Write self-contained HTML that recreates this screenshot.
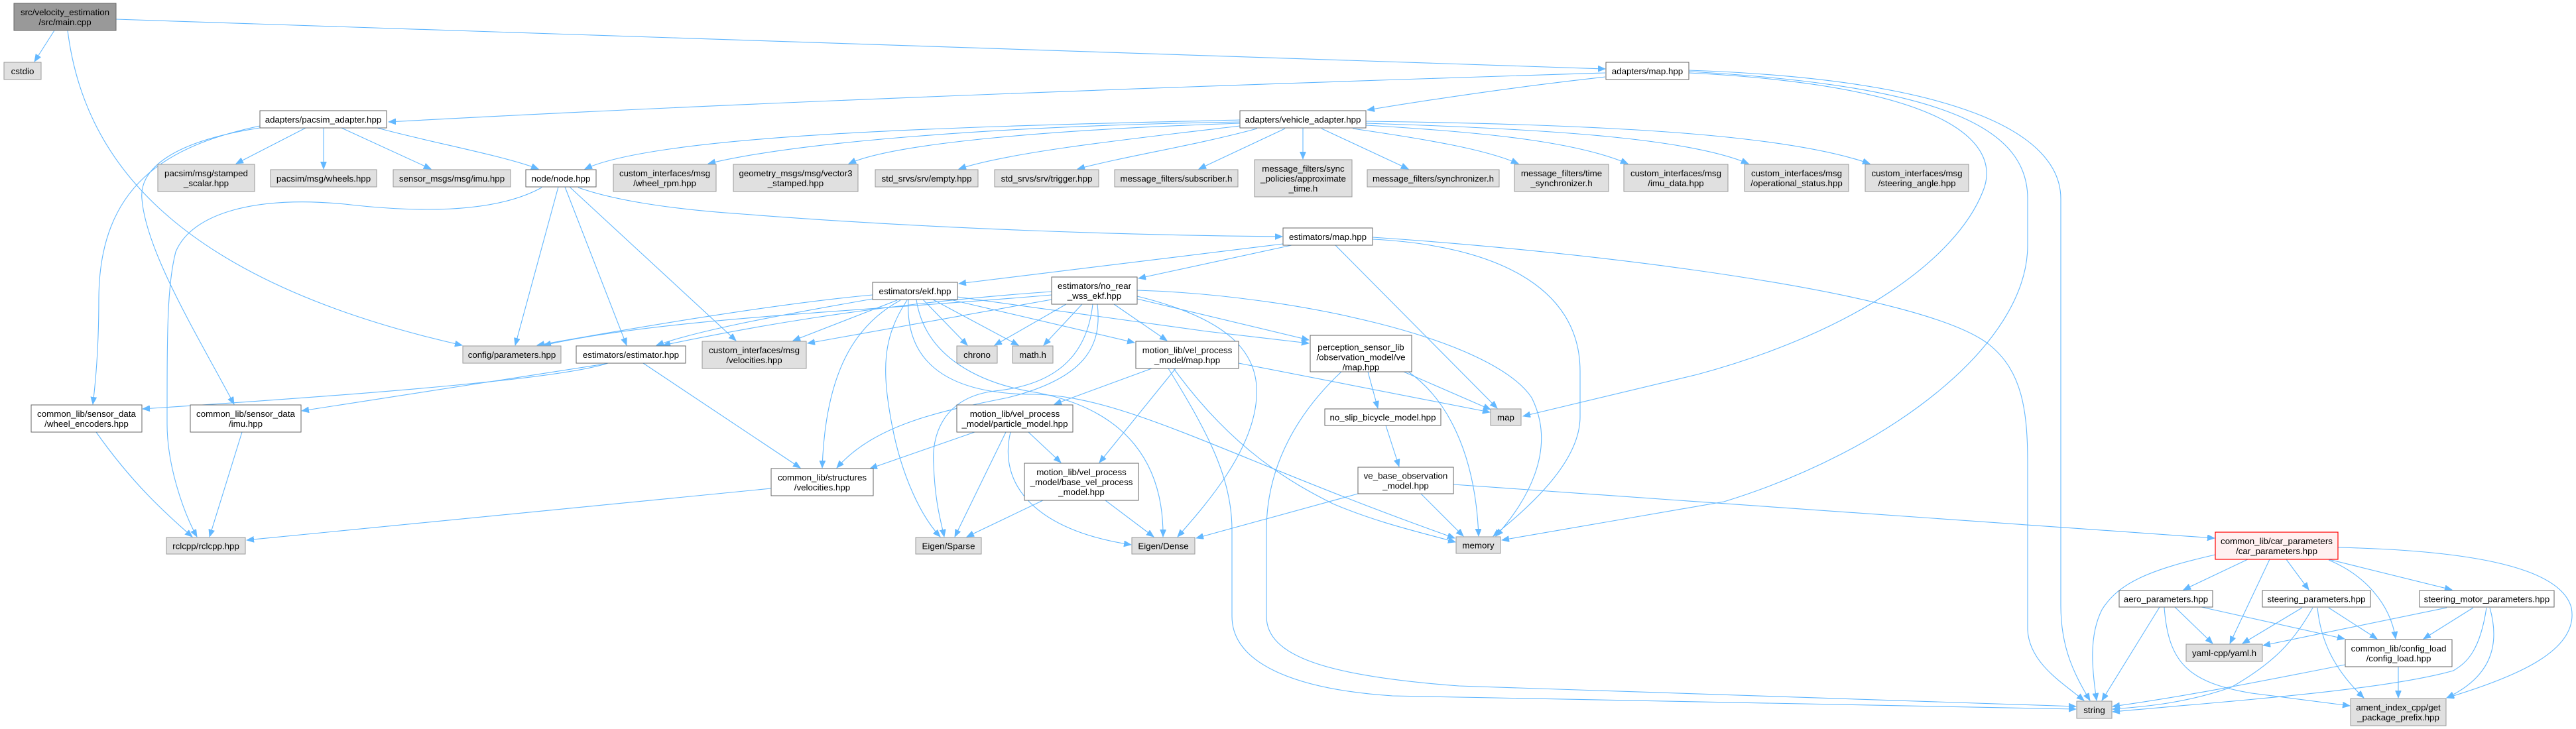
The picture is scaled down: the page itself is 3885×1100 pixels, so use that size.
<!DOCTYPE html>
<html><head><meta charset="utf-8"><style>
html,body{margin:0;padding:0;background:#fff;}
svg{display:block;}
text{font-family:"Liberation Sans",Arial,Helvetica,sans-serif;font-size:13.33px;fill:#000;text-anchor:middle;}
.e{fill:none;stroke:#63b8ff;stroke-width:1.1;marker-end:url(#a);}
.g{fill:#e0e0e0;stroke:#999999;stroke-width:1;}
.w{fill:#ffffff;stroke:#666666;stroke-width:1;}
</style></head><body>
<svg width="3885" height="1100" viewBox="0 0 3885 1100" xmlns="http://www.w3.org/2000/svg">
<defs><marker id="a" markerWidth="12" markerHeight="10" refX="11" refY="4.5" orient="auto" markerUnits="userSpaceOnUse"><path d="M0,0 L11,4.5 L0,9 Z" fill="#63b8ff" stroke="#63b8ff" stroke-width="0.8"/></marker></defs>

<!-- edges -->
<!-- main -->
<path class="e" d="M82,46 L52,93"/>
<path class="e" d="M175,29 L2421,104"/>
<path class="e" d="M102,46 C125,230 250,420 697,521"/>
<!-- adapters/map -->
<path class="e" d="M2421,110 Q1300,145 586,184"/>
<path class="e" d="M2421,116 Q2250,135 2062,166"/>
<path class="e" d="M2547,110 C2950,130 3020,220 2990,290 C2950,390 2800,500 2560,565 L2297,628"/>
<path class="e" d="M2547,108 C2950,130 3058,200 3058,300 L3058,370 C3058,520 2850,680 2600,757 L2265,815"/>
<path class="e" d="M2547,106 C2950,120 3108,200 3108,300 L3108,914 C3108,980 3130,1020 3152,1057"/>
<!-- pacsim adapter -->
<path class="e" d="M461,193 L356,247"/>
<path class="e" d="M488,193 L488,255"/>
<path class="e" d="M515,193 L650,255"/>
<path class="e" d="M569,193 C650,215 760,235 812,255"/>
<path class="e" d="M392,190 C250,220 150,280 149,450 C149,520 145,570 140,610"/>
<path class="e" d="M392,193 C250,215 210,260 214,300 C220,380 300,510 353,610"/>
<!-- node -->
<path class="e" d="M817,283 C750,320 640,322 520,308 C390,295 290,320 265,380 C252,430 252,500 252,640 C252,700 275,770 297,810"/>
<path class="e" d="M842,282 L777,521"/>
<path class="e" d="M852,282 L945,521"/>
<path class="e" d="M859,282 L1110,514"/>
<path class="e" d="M872,283 C920,300 1000,315 1120,323 C1400,345 1700,355 1934,357"/>
<!-- vehicle adapter -->
<path class="e" d="M1870,181 C1500,190 1000,200 882,255"/>
<path class="e" d="M1870,184 C1500,190 1200,215 1068,247"/>
<path class="e" d="M1870,186 C1600,195 1350,215 1280,247"/>
<path class="e" d="M1870,190 C1700,210 1520,230 1446,255"/>
<path class="e" d="M1896,194 C1800,220 1700,235 1625,255"/>
<path class="e" d="M1938,194 L1808,255"/>
<path class="e" d="M1965,193 L1965,240"/>
<path class="e" d="M1993,194 L2124,255"/>
<path class="e" d="M2040,194 C2150,210 2240,225 2290,247"/>
<path class="e" d="M2060,189 C2250,200 2380,215 2455,247"/>
<path class="e" d="M2060,186 C2350,195 2550,210 2637,247"/>
<path class="e" d="M2060,183 C2450,188 2700,205 2820,247"/>
<!-- estimators/map -->
<path class="e" d="M1935,368 L1446,428"/>
<path class="e" d="M1948,370 L1717,420"/>
<path class="e" d="M2014,370 L2258,616"/>
<path class="e" d="M2070,361 C2250,370 2383,430 2383,560 L2383,629 C2383,700 2300,770 2252,809"/>
<path class="e" d="M2070,358 C2400,380 2900,440 3000,520 C3050,560 3058,620 3058,700 L3058,950 C3060,1000 3110,1030 3143,1057"/>
<!-- ekf -->
<path class="e" d="M1316,445 C1150,460 900,505 810,521"/>
<path class="e" d="M1353,453 L1196,514"/>
<path class="e" d="M1316,451 C1150,480 1050,500 990,521"/>
<path class="e" d="M1358,453 C1290,490 1245,560 1240,706"/>
<path class="e" d="M1368,453 C1330,510 1330,560 1345,640 C1360,720 1390,780 1418,810"/>
<path class="e" d="M1392,452 L1459,521"/>
<path class="e" d="M1407,452 L1536,521"/>
<path class="e" d="M1433,452 L1711,517"/>
<path class="e" d="M1444,448 L1820,500 L1974,518"/>
<path class="e" d="M1370,452 C1365,540 1420,595 1560,595 C1700,598 1850,690 2194,812"/>
<path class="e" d="M1382,452 C1395,540 1480,580 1567,593 C1700,620 1755,700 1754,810"/>
<!-- no_rear -->
<path class="e" d="M1586,445 C1300,470 1000,480 820,521"/>
<path class="e" d="M1586,452 L1218,518"/>
<path class="e" d="M1586,440 C1300,460 1100,500 1000,521"/>
<path class="e" d="M1608,459 L1500,521"/>
<path class="e" d="M1632,459 L1574,521"/>
<path class="e" d="M1680,459 L1760,514"/>
<path class="e" d="M1715,451 L1974,513"/>
<path class="e" d="M1715,438 C1950,445 2250,510 2310,600 C2350,680 2300,760 2256,809"/>
<path class="e" d="M1715,447 C1850,480 1900,530 1895,600 C1890,680 1820,760 1776,810"/>
<path class="e" d="M1648,459 C1640,530 1600,580 1500,590 C1420,600 1405,660 1408,700 C1410,760 1420,790 1424,810"/>
<path class="e" d="M1655,459 C1662,520 1640,570 1520,600 C1420,620 1320,640 1262,706"/>
<!-- motion map -->
<path class="e" d="M1737,556 L1590,610"/>
<path class="e" d="M1773,556 L1658,698"/>
<path class="e" d="M1762,556 C1820,650 1858,720 1858,800 L1858,930 C1858,1000 1950,1040 2100,1050 L3131,1070"/>
<path class="e" d="M1770,556 C1860,680 1950,730 2010,760 C2080,790 2150,805 2195,818"/>
<path class="e" d="M1868,548 L2247,622"/>
<!-- perception -->
<path class="e" d="M2117,561 L2248,618"/>
<path class="e" d="M2124,561 C2180,600 2225,680 2230,809"/>
<path class="e" d="M2063,561 L2078,616"/>
<path class="e" d="M2023,561 C1960,620 1910,700 1910,800 L1910,930 C1910,990 2000,1020 2200,1035 L3131,1066"/>
<!-- no_slip / ve_base -->
<path class="e" d="M2090,642 L2110,704"/>
<path class="e" d="M2048,745 L1804,812"/>
<path class="e" d="M2143,745 L2207,809"/>
<path class="e" d="M2192,731 L3340,812"/>
<!-- particle -->
<path class="e" d="M1470,652 L1312,707"/>
<path class="e" d="M1517,652 L1440,810"/>
<path class="e" d="M1551,652 L1600,698"/>
<path class="e" d="M1524,652 C1505,730 1560,800 1706,822"/>
<!-- base_vel -->
<path class="e" d="M1573,755 L1458,810"/>
<path class="e" d="M1667,755 L1740,810"/>
<!-- common velocities -->
<path class="e" d="M1163,737 L372,815"/>
<!-- estimator -->
<path class="e" d="M970,548 L1207,706"/>
<path class="e" d="M917,548 C850,570 600,592 215,617"/>
<path class="e" d="M913,549 L455,620"/>
<!-- sensor_data -->
<path class="e" d="M145,652 C200,730 250,775 290,810"/>
<path class="e" d="M365,652 L316,810"/>
<!-- car params -->
<path class="e" d="M3390,844 L3293,890"/>
<path class="e" d="M3341,837 C3240,860 3195,880 3170,920 C3150,960 3155,1010 3162,1057"/>
<path class="e" d="M3423,844 L3363,971"/>
<path class="e" d="M3448,844 L3482,890"/>
<path class="e" d="M3512,845 C3565,867 3605,910 3613,964"/>
<path class="e" d="M3512,844 L3698,890"/>
<path class="e" d="M3526,826 C3700,830 3860,850 3878,917 C3890,980 3800,1020 3690,1053"/>
<!-- aero -->
<path class="e" d="M3257,916 L3170,1057"/>
<path class="e" d="M3280,916 L3337,971"/>
<path class="e" d="M3320,916 L3536,964"/>
<path class="e" d="M3264,916 C3270,1000 3300,1030 3396,1046 L3544,1065"/>
<!-- steering params -->
<path class="e" d="M3472,917 L3382,971"/>
<path class="e" d="M3488,917 C3460,967 3430,1000 3365,1037 C3300,1060 3240,1066 3186,1070"/>
<path class="e" d="M3512,917 L3585,964"/>
<path class="e" d="M3495,917 C3500,967 3520,1010 3565,1053"/>
<!-- steering motor -->
<path class="e" d="M3690,917 L3413,974"/>
<path class="e" d="M3730,917 L3655,964"/>
<path class="e" d="M3750,917 C3740,983 3720,1000 3700,1012 C3600,1040 3400,1055 3186,1074"/>
<path class="e" d="M3755,917 C3770,970 3760,1020 3690,1053"/>
<!-- config_load -->
<path class="e" d="M3617,1006 L3617,1053"/>
<path class="e" d="M3537,1003 C3400,1030 3300,1050 3186,1066"/>

<!-- nodes -->
<rect x="21" y="5" width="154" height="41" fill="#999999" stroke="#666666"/>
<text x="98" y="23">src/velocity_estimation</text><text x="98" y="38">/src/main.cpp</text>

<rect class="g" x="6" y="94" width="56" height="26"/><text x="34" y="112">cstdio</text>
<rect class="w" x="2422" y="94" width="125" height="26"/><text x="2484.5" y="112">adapters/map.hpp</text>
<rect class="w" x="392" y="167" width="191" height="26"/><text x="487.5" y="185">adapters/pacsim_adapter.hpp</text>
<rect class="w" x="1870" y="167" width="190" height="26"/><text x="1965" y="185">adapters/vehicle_adapter.hpp</text>

<rect class="g" x="238" y="248" width="146" height="41"/><text x="311" y="266">pacsim/msg/stamped</text><text x="311" y="281">_scalar.hpp</text>
<rect class="g" x="408" y="256" width="160" height="26"/><text x="488" y="274">pacsim/msg/wheels.hpp</text>
<rect class="g" x="593" y="256" width="177" height="26"/><text x="681.5" y="274">sensor_msgs/msg/imu.hpp</text>
<rect class="w" x="793" y="256" width="106" height="26"/><text x="846" y="274">node/node.hpp</text>
<rect class="g" x="925" y="248" width="155" height="41"/><text x="1002.5" y="266">custom_interfaces/msg</text><text x="1002.5" y="281">/wheel_rpm.hpp</text>
<rect class="g" x="1106" y="248" width="188" height="41"/><text x="1200" y="266">geometry_msgs/msg/vector3</text><text x="1200" y="281">_stamped.hpp</text>
<rect class="g" x="1320" y="256" width="155" height="26"/><text x="1397.5" y="274">std_srvs/srv/empty.hpp</text>
<rect class="g" x="1500" y="256" width="157" height="26"/><text x="1578.5" y="274">std_srvs/srv/trigger.hpp</text>
<rect class="g" x="1681" y="256" width="186" height="26"/><text x="1774" y="274">message_filters/subscriber.h</text>
<rect class="g" x="1892" y="241" width="147" height="56"/><text x="1965.5" y="259">message_filters/sync</text><text x="1965.5" y="274">_policies/approximate</text><text x="1965.5" y="289">_time.h</text>
<rect class="g" x="2062" y="256" width="199" height="26"/><text x="2161.5" y="274">message_filters/synchronizer.h</text>
<rect class="g" x="2284" y="248" width="142" height="41"/><text x="2355" y="266">message_filters/time</text><text x="2355" y="281">_synchronizer.h</text>
<rect class="g" x="2449" y="248" width="157" height="41"/><text x="2527.5" y="266">custom_interfaces/msg</text><text x="2527.5" y="281">/imu_data.hpp</text>
<rect class="g" x="2631" y="248" width="157" height="41"/><text x="2709.5" y="266">custom_interfaces/msg</text><text x="2709.5" y="281">/operational_status.hpp</text>
<rect class="g" x="2813" y="248" width="156" height="41"/><text x="2891" y="266">custom_interfaces/msg</text><text x="2891" y="281">/steering_angle.hpp</text>

<rect class="w" x="1935" y="344" width="135" height="26"/><text x="2002.5" y="362">estimators/map.hpp</text>
<rect class="w" x="1316" y="426" width="128" height="26"/><text x="1380" y="444">estimators/ekf.hpp</text>
<rect class="w" x="1586" y="418" width="129" height="41"/><text x="1650.5" y="436">estimators/no_rear</text><text x="1650.5" y="451">_wss_ekf.hpp</text>

<rect class="g" x="698" y="522" width="148" height="26"/><text x="772" y="540">config/parameters.hpp</text>
<rect class="w" x="869" y="522" width="165" height="26"/><text x="951.5" y="540">estimators/estimator.hpp</text>
<rect class="g" x="1059" y="515" width="157" height="41"/><text x="1137.5" y="533">custom_interfaces/msg</text><text x="1137.5" y="548">/velocities.hpp</text>
<rect class="g" x="1443" y="522" width="61" height="26"/><text x="1473.5" y="540">chrono</text>
<rect class="g" x="1527" y="522" width="61" height="26"/><text x="1557.5" y="540">math.h</text>
<rect class="w" x="1713" y="515" width="155" height="41"/><text x="1790.5" y="533">motion_lib/vel_process</text><text x="1790.5" y="548">_model/map.hpp</text>
<rect class="w" x="1976" y="506" width="153" height="55"/><text x="2052.5" y="528.5">perception_sensor_lib</text><text x="2052.5" y="543.5">/observation_model/ve</text><text x="2052.5" y="558.5">/map.hpp</text>

<rect class="w" x="47" y="611" width="167" height="41"/><text x="130.5" y="629">common_lib/sensor_data</text><text x="130.5" y="644">/wheel_encoders.hpp</text>
<rect class="w" x="287" y="611" width="167" height="41"/><text x="370.5" y="629">common_lib/sensor_data</text><text x="370.5" y="644">/imu.hpp</text>
<rect class="w" x="1443" y="611" width="175" height="41"/><text x="1530.5" y="629">motion_lib/vel_process</text><text x="1530.5" y="644">_model/particle_model.hpp</text>
<rect class="w" x="1998" y="617" width="175" height="25"/><text x="2085.5" y="634.5">no_slip_bicycle_model.hpp</text>
<rect class="g" x="2248" y="617" width="46" height="25"/><text x="2271" y="634.5">map</text>

<rect class="w" x="1163" y="707" width="154" height="41"/><text x="1240" y="725">common_lib/structures</text><text x="1240" y="740">/velocities.hpp</text>
<rect class="w" x="1545" y="699" width="172" height="56"/><text x="1631" y="717">motion_lib/vel_process</text><text x="1631" y="732">_model/base_vel_process</text><text x="1631" y="747">_model.hpp</text>
<rect class="w" x="2048" y="705" width="144" height="40"/><text x="2120" y="722.5">ve_base_observation</text><text x="2120" y="737.5">_model.hpp</text>

<rect class="g" x="251" y="811" width="119" height="25"/><text x="310.5" y="828.5">rclcpp/rclcpp.hpp</text>
<rect class="g" x="1381" y="811" width="99" height="25"/><text x="1430.5" y="828.5">Eigen/Sparse</text>
<rect class="g" x="1707" y="811" width="95" height="25"/><text x="1754.5" y="828.5">Eigen/Dense</text>
<rect class="g" x="2196" y="810" width="67" height="25"/><text x="2229.5" y="827.5">memory</text>

<rect x="3341" y="803" width="185" height="41" fill="#fff0f0" stroke="#ff0000" stroke-width="1.2"/><text x="3433.5" y="821">common_lib/car_parameters</text><text x="3433.5" y="836">/car_parameters.hpp</text>
<rect class="w" x="3196" y="891" width="141" height="25"/><text x="3266.5" y="908.5">aero_parameters.hpp</text>
<rect class="w" x="3412" y="891" width="163" height="25"/><text x="3493.5" y="908.5">steering_parameters.hpp</text>
<rect class="w" x="3649" y="891" width="203" height="25"/><text x="3750.5" y="908.5">steering_motor_parameters.hpp</text>
<rect class="g" x="3297" y="972" width="115" height="26"/><text x="3354.5" y="990">yaml-cpp/yaml.h</text>
<rect class="w" x="3537" y="965" width="161" height="41"/><text x="3617.5" y="983">common_lib/config_load</text><text x="3617.5" y="998">/config_load.hpp</text>
<rect class="g" x="3132" y="1058" width="53" height="26"/><text x="3158.5" y="1076">string</text>
<rect class="g" x="3545" y="1054" width="144" height="41"/><text x="3617" y="1072">ament_index_cpp/get</text><text x="3617" y="1087">_package_prefix.hpp</text>
</svg>
</body></html>
